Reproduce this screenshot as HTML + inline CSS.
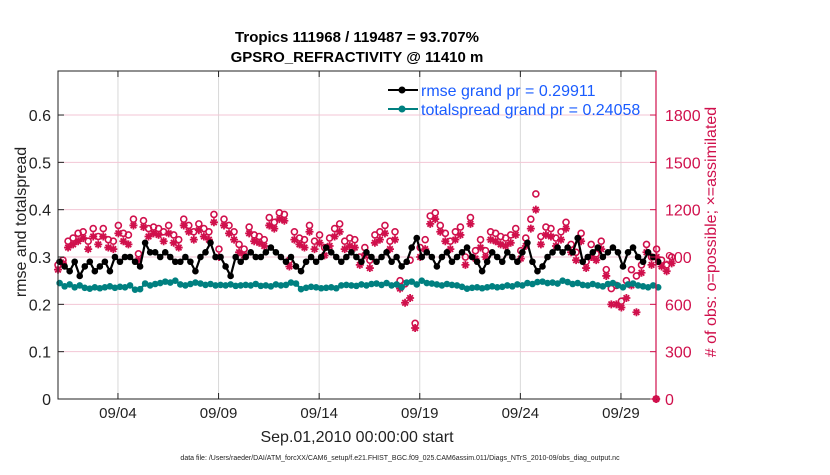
<!DOCTYPE html>
<html><head><meta charset="utf-8"><style>
body{margin:0;background:#fff;}
svg text{font-family:"Liberation Sans",Arial,sans-serif;}
</style></head><body>
<svg id="chart" width="830" height="470" xmlns="http://www.w3.org/2000/svg">
<rect width="830" height="470" fill="#fff"/>
<g id="grid"></g>
<g id="series"></g>
<rect x="58" y="71" width="598" height="328" fill="none" stroke="#222" stroke-width="1"/>
<line x1="656" y1="71" x2="656" y2="399" stroke="#d0104c" stroke-width="1.2"/>
<g id="axes"></g>
<text x="357" y="42" text-anchor="middle" font-size="15" font-weight="bold">Tropics 111968 / 119487 = 93.707%</text>
<text x="357" y="62" text-anchor="middle" font-size="15" font-weight="bold">GPSRO_REFRACTIVITY @ 11410 m</text>
<text transform="translate(26,222) rotate(-90)" text-anchor="middle" font-size="16" fill="#222">rmse and totalspread</text>
<text transform="translate(716,232) rotate(-90)" text-anchor="middle" font-size="16" fill="#d0104c"># of obs: o=possible; ×=assimilated</text>
<text x="357" y="442" text-anchor="middle" font-size="16" fill="#222">Sep.01,2010 00:00:00 start</text>
<text x="400" y="460" text-anchor="middle" font-size="7" fill="#222">data file: /Users/raeder/DAI/ATM_forcXX/CAM6_setup/f.e21.FHIST_BGC.f09_025.CAM6assim.011/Diags_NTrS_2010-09/obs_diag_output.nc</text>
<g>
<line x1="388" y1="90" x2="418" y2="90" stroke="#000" stroke-width="2"/>
<circle cx="402" cy="90" r="3.5" fill="#000"/>
<text x="421" y="96" font-size="16" fill="#1a5cff">rmse grand pr = 0.29911</text>
<line x1="388" y1="109" x2="418" y2="109" stroke="#008080" stroke-width="2"/>
<circle cx="402" cy="109" r="3.5" fill="#008080"/>
<text x="421" y="115" font-size="16" fill="#1a5cff">totalspread grand pr = 0.24058</text>
</g>
</svg>
<script>
const rmse=[0.29,0.28,0.27,0.29, 0.26,0.28,0.29,0.27, 0.28,0.29,0.27,0.30, 0.29,0.30,0.30,0.29, 0.28,0.33,0.31,0.31,
0.30,0.31,0.30,0.29, 0.29,0.30,0.29,0.27, 0.30,0.31,0.33,0.30, 0.30,0.28,0.26,0.30, 0.29,0.30,0.31,0.30,
0.30,0.31,0.32,0.31, 0.30,0.29,0.30,0.28, 0.27,0.29,0.30,0.29, 0.30,0.32,0.31,0.30, 0.29,0.30,0.31,0.30,
0.29,0.31,0.30,0.29, 0.30,0.31,0.29,0.30, 0.28,0.29,0.32,0.34, 0.30,0.31,0.30,0.28, 0.30,0.31,0.29,0.30,
0.31,0.32,0.30,0.29, 0.27,0.29,0.31,0.30, 0.29,0.31,0.30,0.29, 0.31,0.33,0.29,0.27, 0.28,0.30,0.31,0.32,
0.31,0.32,0.31,0.34, 0.29,0.30,0.31,0.32, 0.30,0.31,0.32,0.31, 0.28,0.31,0.32,0.30, 0.29,0.31,0.30,0.29];
const spread=[0.245,0.238,0.242,0.236, 0.240,0.235,0.233,0.236, 0.234,0.236,0.238,0.235, 0.237,0.236,0.240,0.231, 0.232,0.244,0.240,0.243,
0.245,0.248,0.246,0.250, 0.242,0.240,0.243,0.246, 0.244,0.241,0.243,0.240, 0.241,0.240,0.242,0.239, 0.240,0.241,0.240,0.243,
0.239,0.240,0.238,0.242, 0.240,0.241,0.246,0.244, 0.232,0.235,0.237,0.236, 0.234,0.235,0.236,0.234, 0.240,0.241,0.240,0.239,
0.242,0.240,0.243,0.244, 0.241,0.245,0.240,0.242, 0.236,0.246,0.248,0.242, 0.250,0.245,0.244,0.242, 0.240,0.243,0.241,0.240,
0.237,0.233,0.235,0.236, 0.234,0.236,0.238,0.236, 0.237,0.240,0.238,0.242, 0.240,0.245,0.243,0.247, 0.248,0.245,0.246,0.244,
0.250,0.247,0.243,0.245, 0.241,0.240,0.243,0.240, 0.238,0.243,0.245,0.240, 0.236,0.242,0.244,0.240, 0.238,0.236,0.240,0.236];
const possible=[850,880,1000,1020, 1050,1060,1000,1080, 1030,1080,1010,1000, 1100,1050,1040,1140, 920,1130,1080,1090,
1080,1060,1100,1040, 1010,1140,1100,1060, 1110,1080,1060,1170, 950,1140,1100,1060, 980,950,1090,1040,
1030,1010,1150,1120, 1180,1170,880,1060, 1020,1010,1100,1000, 1040,960,1020,1080, 1110,1000,1020,1010,
900,960,880,1040, 1060,1100,1000,1060, 750,730,880,480, 960,1010,1160,1180, 1100,1050,1000,1060,
1090,900,1150,940, 1010,940,1060,1050, 1030,1020,1040,1080, 940,1020,1140,1300, 1030,1090,1080,1020,
1060,1120,980,930, 1050,870,980,920, 1000,820,700,720, 620,750,820,780, 850,980,900,950, 880,850,900,0];
const assim=[820,860,960,980, 1000,1020,950,1030, 980,1030,960,950, 1050,1000,980,1100, 880,1090,1030,1050,
1040,1000,1050,990, 960,1100,1060,1010, 1070,1030,1010,1120, 900,1100,1050,1010, 930,910,1050,1000,
990,970,1100,1080, 1140,1130,840,1010, 980,960,1060,950, 990,910,970,1030, 1060,950,970,960,
850,910,830,990, 1010,1050,950,1010, 700,610,640,450, 900,950,1110,1140, 1060,1000,950,1010,
1040,850,1110,890, 960,900,1010,1000, 980,970,990,1040, 890,970,1080,1200, 980,1040,1030,970,
1010,1080,930,880, 1000,830,900,880, 950,780,600,600, 580,640,720,550, 800,930,850,900, 840,810,860,0];
const xTickLabels=["09/04","09/09","09/14","09/19","09/24","09/29"];
const xTickDays=[3,8,13,18,23,28];
const leftTicks=[0,0.1,0.2,0.3,0.4,0.5,0.6];
const rightTicks=[0,300,600,900,1200,1500,1800];

const X0=57.6, PXD=20.12, Y0=399, PXU=473.3;
function xs(day){return X0+day*PXD;}
function yl(v){return Y0-v*PXU;}
function yr(n){return Y0-n/300*47.33;}
function dayOf(i,n){return i===n-1?29.75:i*0.25+0.02;}
const NS="http://www.w3.org/2000/svg";
function mk(parent,tag,attrs){const e=document.createElementNS(NS,tag);for(const k in attrs)e.setAttribute(k,attrs[k]);parent.appendChild(e);return e;}
const grid=document.getElementById('grid'),axes=document.getElementById('axes'),ser=document.getElementById('series');

xTickDays.forEach((d,i)=>{
  const x=xs(d);
  const g=mk(grid,'line',{x1:x,y1:71,x2:x,y2:399,stroke:'#d8d8d8','stroke-width':1});
  
  
  const t=mk(axes,'line',{x1:x,y1:399,x2:x,y2:393,stroke:'#222'});
  
  
  const t2=mk(axes,'line',{x1:x,y1:71,x2:x,y2:77,stroke:'#222'});
  
  
  const l=mk(axes,'text',{x:x,y:418,'text-anchor':'middle','font-size':'15',fill:'#222'});
  l.textContent=xTickLabels[i];
  
  
});
leftTicks.forEach(v=>{
  const y=yl(v);
  if(v>0){const g=mk(grid,'line',{x1:58,y1:y,x2:656,y2:y,stroke:'#f3c6d4','stroke-width':1});
  
  }
  const t=mk(axes,'line',{x1:58,y1:y,x2:64,y2:y,stroke:'#222'});
  
  
  const l=mk(axes,'text',{x:51,y:y+6,'text-anchor':'end','font-size':'16',fill:'#222'});
  l.textContent=v===0?'0':v.toFixed(1);
  
  
});
rightTicks.forEach(n=>{
  const y=yr(n);
  const t=mk(axes,'line',{x1:650,y1:y,x2:656,y2:y,stroke:'#d0104c'});
  
  
  const l=mk(axes,'text',{x:665,y:y+6,'font-size':'16',fill:'#d0104c'});
  l.textContent=String(n);
  
  
});

possible.forEach((n,i)=>{
  const c=mk(ser,'circle',{cx:xs(dayOf(i,possible.length)),cy:yr(n),r:3,fill:'none',stroke:'#d0104c','stroke-width':1.6});
  
  
});
assim.forEach((n,i)=>{
  const x=xs(dayOf(i,assim.length)),y=yr(n),r=4;
  const d=`M${x-r},${y}H${x+r}M${x},${y-r}V${y+r}M${x-r*.7},${y-r*.7}L${x+r*.7},${y+r*.7}M${x-r*.7},${y+r*.7}L${x+r*.7},${y-r*.7}`;
  const p=mk(ser,'path',{d:d,stroke:'#d0104c','stroke-width':1.8,fill:'none'});
  
  
});
function line(arr,color,name){
  const pts=arr.map((v,i)=>xs(i*0.25+0.1)+','+yl(v)).join(' ');
  const pl=mk(ser,'polyline',{points:pts,fill:'none',stroke:color,'stroke-width':2.2});
  
  
  arr.forEach((v,i)=>{
    const c=mk(ser,'circle',{cx:xs(i*0.25+0.1),cy:yl(v),r:3.3,fill:color});
    
    
  });
}
line(spread,'#008080','totalspread');
line(rmse,'#000000','rmse');
</script>
</body></html>
